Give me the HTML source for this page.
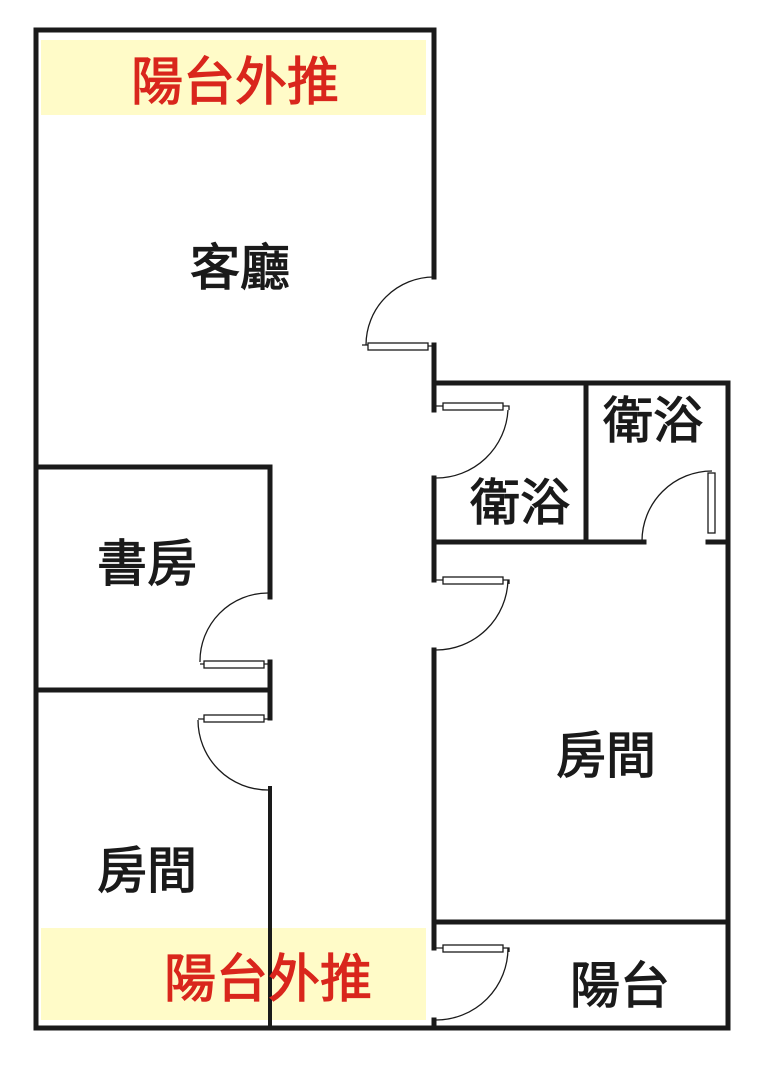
<!DOCTYPE html>
<html><head><meta charset="utf-8"><style>
html,body{margin:0;padding:0;background:#fff;}
svg{display:block;}
text{font-family:"Liberation Sans","Noto Sans CJK TC",sans-serif;font-weight:normal;}
</style></head><body>
<svg width="763" height="1067" viewBox="0 0 763 1067" xmlns="http://www.w3.org/2000/svg">
<rect x="0" y="0" width="763" height="1067" fill="#fff"/>
<rect x="41" y="40" width="385" height="75" fill="#fffbc8"/>
<rect x="41" y="928" width="385" height="92" fill="#fffbc8"/>
<g stroke="#1a1a1a" stroke-width="5" fill="none" stroke-linecap="square">
<path d="M36 30 V1028 H728 V383 H434"/>
<path d="M36 30 H434 V277"/>
<path d="M434 345 V410"/>
<path d="M434 478 V580"/>
<path d="M434 650 V948"/>
<path d="M434 1020 V1028"/>
<path d="M434 922 H728"/>
<path d="M586 383 V542"/>
<path d="M434 542 H644"/>
<path d="M708 542 H728"/>
<path d="M36 467 H270 V597"/>
<path d="M270 662 V718"/>
<path d="M36 690 H270"/>
<path d="M270 788 V1028" stroke-width="4"/>
</g>
<g stroke="#1a1a1a" stroke-width="1.3" fill="#fff">
<path d="M434 277 A68 68 0 0 0 366 345" fill="none"/>
<rect x="368" y="343" width="60" height="7"/>
<path d="M362 345 H368 M428 346 H434" fill="none"/>
<path d="M508 410 A72 72 0 0 1 436 478" fill="none"/>
<rect x="443" y="403" width="60" height="7"/>
<path d="M436 406 H443 M503 406 H509 V410" fill="none"/>
<path d="M712 471 A70 70 0 0 0 642 541" fill="none"/>
<rect x="708" y="473" width="7" height="60"/>
<path d="M508 580 A72 72 0 0 1 436 650" fill="none"/>
<rect x="443" y="577" width="60" height="7"/>
<path d="M436 580 H443 M503 580 H509 V584" fill="none"/>
<path d="M508 948 A72 72 0 0 1 436 1020" fill="none"/>
<rect x="443" y="945" width="60" height="7"/>
<path d="M436 948 H443 M503 948 H509 V952" fill="none"/>
<path d="M268 593 A68 68 0 0 0 200 662" fill="none"/>
<rect x="204" y="661" width="60" height="7"/>
<path d="M200 664 H204 M264 664 H270" fill="none"/>
<path d="M198 720 A70 70 0 0 0 268 790" fill="none"/>
<rect x="204" y="715" width="60" height="7"/>
<path d="M198 719 H204 M264 719 H270" fill="none"/>
</g>
<g font-size="52" text-anchor="middle" fill="#d9261c" stroke="#d9261c" stroke-width="1.2">
<text x="235" y="100">陽台外推</text>
<text x="268" y="997">陽台外推</text>
</g>
<g font-size="50" text-anchor="middle" fill="#1a1a1a" stroke="#1a1a1a" stroke-width="1.2">
<text x="240" y="285">客廳</text>
<text x="147" y="581">書房</text>
<text x="147" y="888">房間</text>
<text x="606" y="773">房間</text>
<text x="653" y="438">衛浴</text>
<text x="520" y="520">衛浴</text>
<text x="620" y="1003">陽台</text>
</g>
</svg>
</body></html>
